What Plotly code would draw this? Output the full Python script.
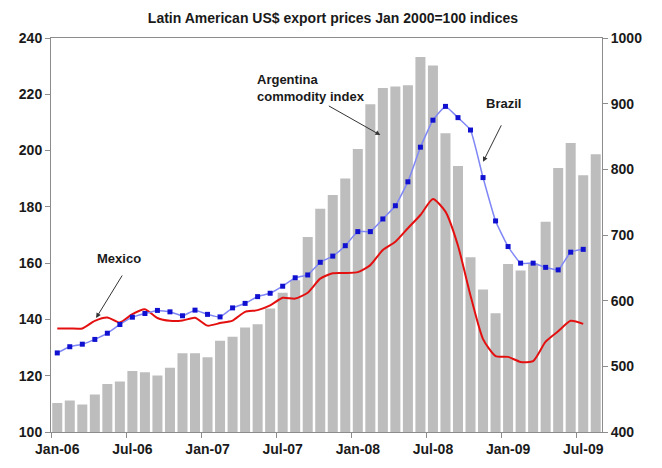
import plotly.graph_objects as go

# ---- data ----
month_names = ["Jan", "Feb", "Mar", "Apr", "May", "Jun", "Jul", "Aug", "Sep", "Oct", "Nov", "Dec"]
years = ["06", "07", "08", "09"]
months = [f"{m}-{y}" for y in years for m in month_names][:44]  # Jan-06 .. Aug-09

argentina = [444, 448, 442, 457, 473, 477, 493, 491, 486, 498, 520, 520,
             514, 539, 545, 559, 564, 588, 612, 631, 697, 740, 761, 786,
             831, 899, 924, 926, 928, 971, 958, 855, 805, 666, 617, 581,
             656, 646, 657, 720, 802, 840, 791, 823]

brazil = [128.1, 130.3, 131.2, 132.9, 135.1, 138.2, 140.8, 142.1, 143.2, 142.7, 141.3, 143.3,
          141.8, 140.9, 144.1, 145.7, 148.1, 149.3, 151.8, 154.8, 155.8, 160.3, 162.5, 166.2,
          171.2, 171.2, 175.7, 180.4, 188.9, 201.2, 210.8, 215.7, 211.7, 207.3, 190.4, 175.0,
          165.9, 160.0, 160.0, 158.5, 157.6, 163.9, 164.9]

mexico = [136.8, 136.8, 136.8, 139.5, 140.7, 138.9, 141.9, 143.6, 140.5, 139.5, 139.6, 140.6,
          137.8, 138.7, 139.6, 142.7, 143.3, 145.0, 147.7, 147.4, 149.5, 154.5, 156.4, 156.5,
          156.8, 159.3, 164.7, 167.6, 172.4, 177.1, 182.8, 178.3, 166.2, 148.5, 133.0, 127.0,
          126.7, 124.9, 125.2, 132.1, 135.8, 139.5, 138.4]

title = "Latin American US$ export prices Jan 2000=100 indices"
FONT = "Arial, 'Liberation Sans', sans-serif"
AXC = "#8c8c8c"

fig = go.Figure()

fig.add_trace(go.Bar(x=months, y=argentina, marker=dict(color="#bdbdbd", line=dict(width=0)),
                     yaxis="y", name="Argentina"))
fig.add_trace(go.Scatter(x=months[:len(mexico)], y=mexico, mode="lines", yaxis="y2",
                         line=dict(color="#e41010", width=2, shape="spline", smoothing=0.6),
                         name="Mexico"))
fig.add_trace(go.Scatter(x=months[:len(brazil)], y=brazil, mode="lines+markers", yaxis="y2",
                         line=dict(color="#7f86f5", width=1.5, shape="spline", smoothing=0.4),
                         marker=dict(symbol="square", size=5, color="#1010d0"),
                         name="Brazil"))

tickfont = dict(family=FONT, size=14, color="#1a1a1a", weight="bold")

fig.update_layout(
    width=662, height=468,
    margin=dict(l=51, r=60, t=38, b=36),
    paper_bgcolor="white", plot_bgcolor="white",
    showlegend=False,
    bargap=0.2,
    title=dict(text="<b>" + title + "</b>", x=0.503, xanchor="center", y=0.962, yanchor="middle",
               font=dict(family=FONT, size=14, color="#1a1a1a")),
    xaxis=dict(type="category", tickmode="linear", tick0=0, dtick=6, tickson="boundaries",
               ticks="outside", ticklen=5, tickcolor=AXC, showline=True, linecolor=AXC,
               linewidth=1, mirror=True, showgrid=False, range=[-0.5, 43.5],
               tickfont=tickfont, tickangle=0, ticklabelstandoff=4),
    yaxis=dict(side="right", range=[400, 1000], dtick=100, ticks="outside", ticklen=5,
               tickcolor=AXC, showline=True, linecolor=AXC, linewidth=1, showgrid=False,
               tickfont=tickfont, zeroline=False),
    yaxis2=dict(side="left", overlaying="y", range=[100, 240], dtick=20, ticks="outside",
                ticklen=5, tickcolor=AXC, showline=True, linecolor=AXC, linewidth=1,
                showgrid=False, tickfont=tickfont, zeroline=False),
)

afont = dict(family=FONT, size=13, color="#1a1a1a")
annots = [
    # text labels
    dict(x=4.96, y=161.5, text="<b>Mexico</b>", showarrow=False, xanchor="center", yanchor="middle"),
    dict(x=15.8, y=228.5, text="<b>Argentina<br>commodity index</b>", showarrow=False,
         xanchor="left", yanchor="top", align="left"),
    dict(x=35.6, y=216.9, text="<b>Brazil</b>", showarrow=False, xanchor="center", yanchor="middle"),
    # arrows
    dict(x=3.1, y=140.5, ax=27, ay=-44, text="", showarrow=True),
    dict(x=25.8, y=205.5, ax=-53, ay=-30, text="", showarrow=True),
    dict(x=34.0, y=196.0, ax=19, ay=-38, text="", showarrow=True),
]
for a in annots:
    a.update(xref="x", yref="y2", font=afont)
    if a.get("showarrow"):
        a.update(arrowhead=2, arrowsize=1, arrowwidth=1, arrowcolor="#333333")
    fig.add_annotation(**a)

fig.write_html("out.html")
